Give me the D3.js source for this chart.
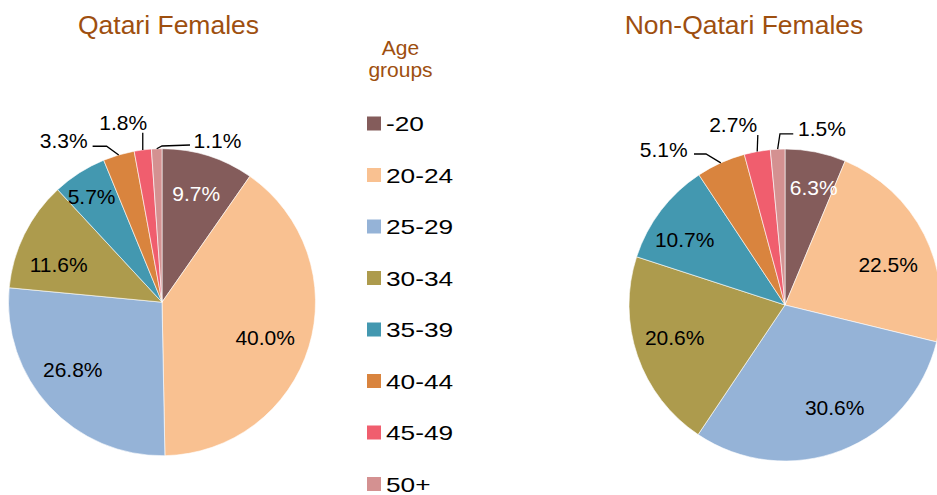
<!DOCTYPE html>
<html>
<head>
<meta charset="utf-8">
<script src="https://cdn.jsdelivr.net/npm/d3@7"></script>
<style>
  html, body { margin: 0; padding: 0; background: #fff; }
  svg { display: block; font-family: "Liberation Sans", Arial, sans-serif; }
</style>
</head>
<body>
<svg id="chart" width="937" height="495"></svg>
<script>
// ---- Data ----
const ageGroups = ["-20", "20-24", "25-29", "30-34", "35-39", "40-44", "45-49", "50+"];
const qatariValues = [9.7, 40.0, 26.8, 11.6, 5.7, 3.3, 1.8, 1.1];
const nonQatariValues = [6.3, 22.5, 30.6, 20.6, 10.7, 5.1, 2.7, 1.5];
const chartTitles = ["Qatari Females", "Non-Qatari Females"];
const legendTitle = ["Age", "groups"];

// ---- Styles / layout ----
const colors = ["#845c5b", "#f9c191", "#95b3d7", "#ad9b4d", "#4398b0", "#d9843e", "#f05e6e", "#d49191"];
const titleColor = "#9e4f0f";

// label placement per slice: inside -> angle tweak (deg) & distance; outside -> offsets from rim point
const qatariLabelLayout = [
  { da: 0, r: 114 },
  { da: 1.9, r: 109 },
  { da: 5.7, r: 112 },
  { da: -6.2, r: 110 },
  { da: -1.1, r: 127 },
  { text: [-55, -14.6], path: [[-12.1, -8.7], [-26.1, -8.7]] },
  { text: [-19.5, -27.1], path: [[0, -17.1]] },
  { text: [60.8, -8.5], path: [[5.3, -2.8], [33.3, -3.8]] }
];
const nonQatariLabelLayout = [
  { da: 2.4, r: 121 },
  { da: 5.2, r: 111 },
  { da: -4.6, r: 114 },
  { da: 2.7, r: 115 },
  { da: -4, r: 120 },
  { text: [-57.1, -13.6], path: [[-14.8, -8.8], [-26.8, -8.8]] },
  { text: [-24.1, -27.3], path: [[0.6, -16.5]] },
  { text: [44.3, -20.9], path: [[2.3, -15.2], [15.6, -15.2]] }
];

const pies = [
  { title: chartTitles[0], values: qatariValues, cx: 162, cy: 302.2, r: 153.5, titleX: 168.5, layout: qatariLabelLayout },
  { title: chartTitles[1], values: nonQatariValues, cx: 785, cy: 305, r: 156, titleX: 744, layout: nonQatariLabelLayout }
];

const svg = d3.select("#chart");
const pieGen = d3.pie().sort(null).value(d => d);
const fmt = d => d3.format(".1f")(d) + "%";

pies.forEach(p => {
  svg.append("text")
    .attr("x", p.titleX).attr("y", 34)
    .attr("text-anchor", "middle")
    .attr("font-size", 26.5)
    .attr("fill", titleColor)
    .text(p.title);

  const g = svg.append("g").attr("transform", `translate(${p.cx},${p.cy})`);
  const arcs = pieGen(p.values);
  const arc = d3.arc().innerRadius(0).outerRadius(p.r);

  g.selectAll("path.slice").data(arcs).join("path")
    .attr("class", "slice")
    .attr("d", arc)
    .attr("fill", (d, i) => colors[i])
    .attr("stroke", "#ffffff")
    .attr("stroke-width", 0.6);

  arcs.forEach((d, i) => {
    const L = p.layout[i];
    const mid = (d.startAngle + d.endAngle) / 2;
    if (L.text) {
      const rx = Math.sin(mid) * p.r, ry = -Math.cos(mid) * p.r;
      const pts = [[rx, ry]].concat(L.path.map(o => [rx + o[0], ry + o[1]]));
      g.append("path")
        .attr("d", d3.line()(pts))
        .attr("fill", "none")
        .attr("stroke", "#000")
        .attr("stroke-width", 1.3);
      g.append("text")
        .attr("x", rx + L.text[0]).attr("y", ry + L.text[1])
        .attr("dy", "0.36em")
        .attr("text-anchor", "middle")
        .attr("font-size", 21)
        .attr("fill", "#000")
        .text(fmt(d.data));
    } else {
      const a = mid + L.da * Math.PI / 180;
      g.append("text")
        .attr("x", Math.sin(a) * L.r).attr("y", -Math.cos(a) * L.r)
        .attr("dy", "0.36em")
        .attr("text-anchor", "middle")
        .attr("font-size", 21)
        .attr("fill", i === 0 ? "#ffffff" : "#000")
        .text(fmt(d.data));
    }
  });
});

// ---- Legend ----
const lg = svg.append("g");
lg.selectAll("text.ltitle").data(legendTitle).join("text")
  .attr("class", "ltitle")
  .attr("x", 400.5)
  .attr("y", (d, i) => 54.7 + i * 22)
  .attr("text-anchor", "middle")
  .attr("font-size", 21)
  .attr("fill", titleColor)
  .text(d => d);

const rowY = d3.scalePoint().domain(ageGroups).range([123.5, 484]);
const rows = lg.selectAll("g.row").data(ageGroups).join("g")
  .attr("class", "row")
  .attr("transform", d => `translate(367,${rowY(d)})`);
rows.append("rect")
  .attr("x", 0).attr("y", -7).attr("width", 14).attr("height", 14)
  .attr("fill", (d, i) => colors[i]);
rows.append("text")
  .attr("transform", "translate(19,7.5) scale(1.25,1)")
  .attr("font-size", 21)
  .attr("fill", "#000")
  .text(d => d);
</script>
</body>
</html>
